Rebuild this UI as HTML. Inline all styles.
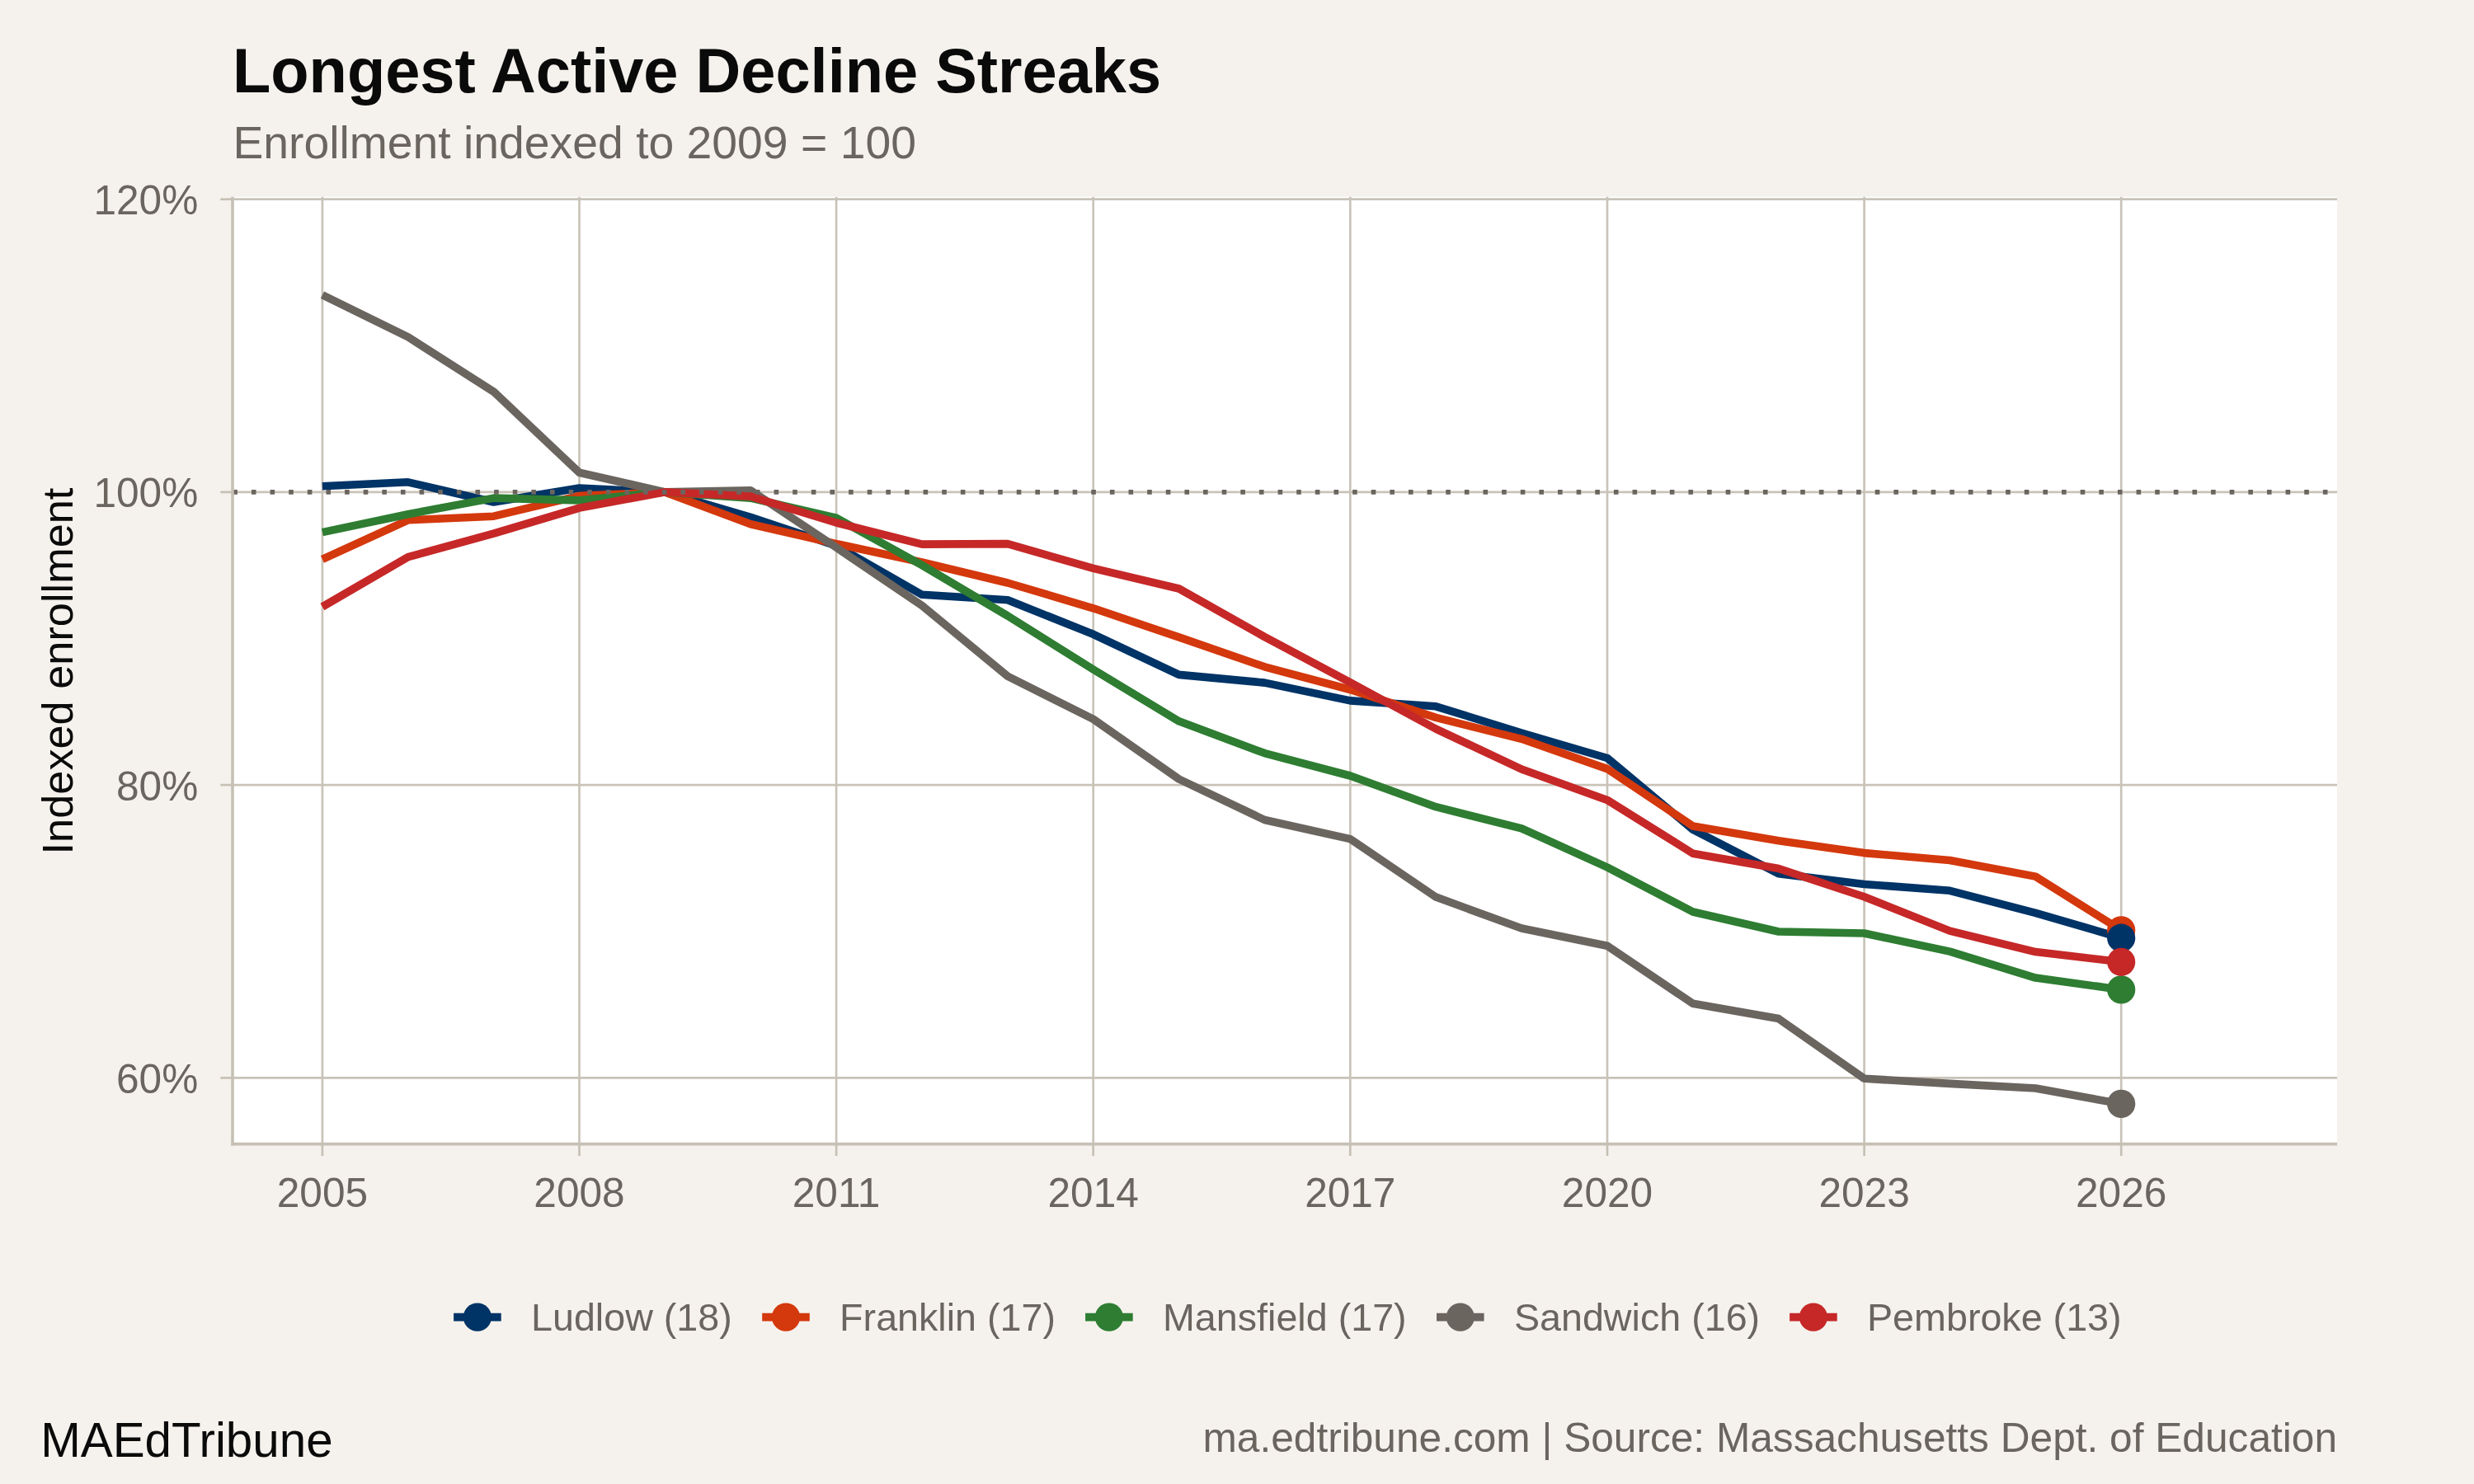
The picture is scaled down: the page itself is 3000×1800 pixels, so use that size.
<!DOCTYPE html>
<html lang="en"><head><meta charset="utf-8"><title>Longest Active Decline Streaks</title>
<style>html,body{margin:0;padding:0;background:#F5F2ED;}body{width:3000px;height:1800px;overflow:hidden;}svg{display:block;will-change:transform;transform:translateZ(0);}text{font-family:"Liberation Sans",Arial,Helvetica,sans-serif;}</style></head><body>
<svg width="3000" height="1800" viewBox="0 0 3000 1800">
<rect width="3000" height="1800" fill="#F5F2ED"/>
<rect x="282.0" y="238.7" width="2552.0" height="1148.9" fill="#FFFFFF"/>
<g stroke="#C9C3B8" stroke-width="2.67" fill="none">
<line x1="282.0" x2="2834.0" y1="241.7" y2="241.7"/>
<line x1="282.0" x2="2834.0" y1="596.9" y2="596.9"/>
<line x1="282.0" x2="2834.0" y1="952.1" y2="952.1"/>
<line x1="282.0" x2="2834.0" y1="1307.4" y2="1307.4"/>
<line x1="390.9" x2="390.9" y1="238.7" y2="1387.6"/>
<line x1="702.5" x2="702.5" y1="238.7" y2="1387.6"/>
<line x1="1014.1" x2="1014.1" y1="238.7" y2="1387.6"/>
<line x1="1325.7" x2="1325.7" y1="238.7" y2="1387.6"/>
<line x1="1637.3" x2="1637.3" y1="238.7" y2="1387.6"/>
<line x1="1949.0" x2="1949.0" y1="238.7" y2="1387.6"/>
<line x1="2260.6" x2="2260.6" y1="238.7" y2="1387.6"/>
<line x1="2572.2" x2="2572.2" y1="238.7" y2="1387.6"/>
</g>
<g fill="none" stroke-width="9.60" stroke-linejoin="round" stroke-linecap="butt">
<polyline stroke="#003366" points="390.9,589.8 494.8,584.8 598.6,609.0 702.5,592.1 806.4,596.9 910.2,627.3 1014.1,662.0 1118.0,721.3 1221.9,727.8 1325.7,769.3 1429.6,818.4 1533.5,828.1 1637.3,849.9 1741.2,856.8 1845.1,889.0 1949.0,919.5 2052.8,1006.2 2156.7,1059.8 2260.6,1072.5 2364.4,1080.3 2468.3,1107.3 2572.2,1137.7"/>
<polyline stroke="#D4380D" points="390.9,678.4 494.8,630.8 598.6,626.2 702.5,601.4 806.4,596.9 910.2,635.8 1014.1,659.6 1118.0,682.0 1221.9,707.0 1325.7,737.8 1429.6,772.9 1533.5,808.8 1637.3,836.5 1741.2,870.4 1845.1,896.3 1949.0,932.6 2052.8,1002.0 2156.7,1019.8 2260.6,1034.6 2364.4,1043.5 2468.3,1063.1 2572.2,1128.3"/>
<polyline stroke="#2E7D32" points="390.9,645.6 494.8,623.7 598.6,604.1 702.5,606.9 806.4,596.9 910.2,604.1 1014.1,628.1 1118.0,685.5 1221.9,747.0 1325.7,812.0 1429.6,874.8 1533.5,913.6 1637.3,941.0 1741.2,978.7 1845.1,1004.8 1949.0,1052.0 2052.8,1106.0 2156.7,1130.0 2260.6,1132.0 2364.4,1154.1 2468.3,1186.1 2572.2,1200.4"/>
<polyline stroke="#6B655F" points="390.9,357.8 494.8,408.8 598.6,475.1 702.5,573.2 806.4,596.9 910.2,594.7 1014.1,664.1 1118.0,734.5 1221.9,820.2 1325.7,872.3 1429.6,945.0 1533.5,994.5 1637.3,1017.6 1741.2,1088.1 1845.1,1126.0 1949.0,1147.2 2052.8,1217.3 2156.7,1235.6 2260.6,1308.3 2364.4,1314.4 2468.3,1320.0 2572.2,1338.9"/>
<polyline stroke="#C62828" points="390.9,736.0 494.8,675.6 598.6,647.2 702.5,616.1 806.4,596.9 910.2,602.1 1014.1,634.0 1118.0,660.1 1221.9,659.6 1325.7,689.4 1429.6,714.0 1533.5,772.5 1637.3,827.8 1741.2,884.1 1845.1,933.0 1949.0,970.4 2052.8,1035.2 2156.7,1053.5 2260.6,1087.7 2364.4,1129.1 2468.3,1154.6 2572.2,1166.8"/>
</g>
<line x1="282.3" x2="2834.0" y1="596.9" y2="596.9" stroke="#6B655F" stroke-width="5.7" stroke-dasharray="5.6 17.03"/>
<circle cx="2572.2" cy="1128.3" r="17.1" fill="#D4380D"/>
<circle cx="2572.2" cy="1137.7" r="17.1" fill="#003366"/>
<circle cx="2572.2" cy="1200.4" r="17.1" fill="#2E7D32"/>
<circle cx="2572.2" cy="1338.9" r="17.1" fill="#6B655F"/>
<circle cx="2572.2" cy="1166.8" r="17.1" fill="#C62828"/>
<g stroke="#C6C0B5" stroke-width="3.56" fill="none">
<line x1="282.0" x2="282.0" y1="238.7" y2="1389.4"/>
<line x1="280.2" x2="2834.0" y1="1387.6" y2="1387.6"/>
</g>
<g stroke="#C6C0B5" stroke-width="2.67" fill="none">
<line x1="267.3" x2="282.0" y1="241.7" y2="241.7"/>
<line x1="267.3" x2="282.0" y1="596.9" y2="596.9"/>
<line x1="267.3" x2="282.0" y1="952.1" y2="952.1"/>
<line x1="267.3" x2="282.0" y1="1307.4" y2="1307.4"/>
<line x1="390.9" x2="390.9" y1="1387.6" y2="1402.0"/>
<line x1="702.5" x2="702.5" y1="1387.6" y2="1402.0"/>
<line x1="1014.1" x2="1014.1" y1="1387.6" y2="1402.0"/>
<line x1="1325.7" x2="1325.7" y1="1387.6" y2="1402.0"/>
<line x1="1637.3" x2="1637.3" y1="1387.6" y2="1402.0"/>
<line x1="1949.0" x2="1949.0" y1="1387.6" y2="1402.0"/>
<line x1="2260.6" x2="2260.6" y1="1387.6" y2="1402.0"/>
<line x1="2572.2" x2="2572.2" y1="1387.6" y2="1402.0"/>
</g>
<g fill="#6B655F" font-size="49.6">
<text x="240.3" y="260.1" text-anchor="end">120%</text>
<text x="240.3" y="615.3" text-anchor="end">100%</text>
<text x="240.3" y="970.5" text-anchor="end">80%</text>
<text x="240.3" y="1325.8" text-anchor="end">60%</text>
<text x="390.9" y="1464.0" text-anchor="middle">2005</text>
<text x="702.5" y="1464.0" text-anchor="middle">2008</text>
<text x="1014.1" y="1464.0" text-anchor="middle">2011</text>
<text x="1325.7" y="1464.0" text-anchor="middle">2014</text>
<text x="1637.3" y="1464.0" text-anchor="middle">2017</text>
<text x="1949.0" y="1464.0" text-anchor="middle">2020</text>
<text x="2260.6" y="1464.0" text-anchor="middle">2023</text>
<text x="2572.2" y="1464.0" text-anchor="middle">2026</text>
</g>
<text transform="translate(88.0,814.0) rotate(-90)" text-anchor="middle" font-size="52.3" fill="#0A0A0A">Indexed enrollment</text>
<text x="282" y="111.6" font-size="75.8" font-weight="bold" fill="#0A0A0A">Longest Active Decline Streaks</text>
<text x="282.4" y="192.0" font-size="55.3" fill="#6B655F">Enrollment indexed to 2009 = 100</text>
<line x1="550.1" x2="607.7" y1="1597.6" y2="1597.6" stroke="#003366" stroke-width="9.60"/>
<circle cx="578.9" cy="1597.6" r="17.1" fill="#003366"/>
<text x="644.0" y="1614.4" font-size="46.67" fill="#6B655F">Ludlow (18)</text>
<line x1="924.2" x2="981.8" y1="1597.6" y2="1597.6" stroke="#D4380D" stroke-width="9.60"/>
<circle cx="953.0" cy="1597.6" r="17.1" fill="#D4380D"/>
<text x="1018.1" y="1614.4" font-size="46.67" fill="#6B655F">Franklin (17)</text>
<line x1="1316.1" x2="1373.7" y1="1597.6" y2="1597.6" stroke="#2E7D32" stroke-width="9.60"/>
<circle cx="1344.9" cy="1597.6" r="17.1" fill="#2E7D32"/>
<text x="1410.0" y="1614.4" font-size="46.67" fill="#6B655F">Mansfield (17)</text>
<line x1="1742.0" x2="1799.6" y1="1597.6" y2="1597.6" stroke="#6B655F" stroke-width="9.60"/>
<circle cx="1770.8" cy="1597.6" r="17.1" fill="#6B655F"/>
<text x="1835.9" y="1614.4" font-size="46.67" fill="#6B655F">Sandwich (16)</text>
<line x1="2170.1" x2="2227.7" y1="1597.6" y2="1597.6" stroke="#C62828" stroke-width="9.60"/>
<circle cx="2198.9" cy="1597.6" r="17.1" fill="#C62828"/>
<text x="2264.0" y="1614.4" font-size="46.67" fill="#6B655F">Pembroke (13)</text>
<text x="49.2" y="1767.3" font-size="58.33" fill="#0A0A0A">MAEdTribune</text>
<text x="2834" y="1760.9" text-anchor="end" font-size="49.63" fill="#6B655F">ma.edtribune.com | Source: Massachusetts Dept. of Education</text>
</svg></body></html>
